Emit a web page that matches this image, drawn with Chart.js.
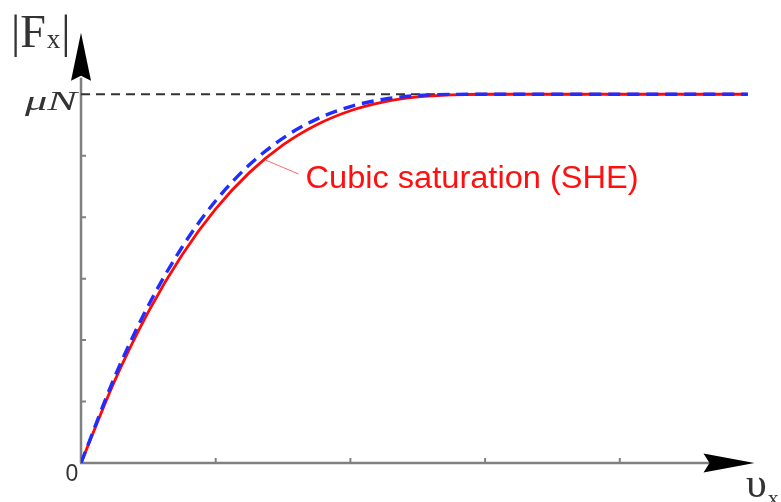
<!DOCTYPE html>
<html>
<head>
<meta charset="utf-8">
<script src="https://cdn.jsdelivr.net/npm/chart.js@4/dist/chart.umd.min.js"></script>
<style>
html,body{margin:0;padding:0;background:#fff;}
#wrap{width:781px;height:502px;position:relative;}
</style>
</head>
<body>
<div id="wrap"><canvas id="c" width="781" height="502"></canvas></div>
<script>
// ---- data ----
const slipValues = [0, 0.25, 0.5, 0.75, 1.0, 1.25, 1.5, 1.75, 2.0, 2.25, 2.5, 2.75, 3.0, 3.5, 4.0, 4.5, 4.95];
const cubicSHE   = [0, 1.337, 2.460, 3.386, 4.135, 4.725, 5.175, 5.504, 5.732, 5.876, 5.956, 5.991, 6.0, 6.0, 6.0, 6.0, 6.0];
const dashedBlue = [0, 1.400, 2.563, 3.511, 4.267, 4.852, 5.287, 5.596, 5.800, 5.920, 5.979, 5.998, 6.0, 6.0, 6.0, 6.0, 6.0];
const muNLevel = 6;
const muNLine = [0, 4.95];
const xTicks = [1, 2, 3, 4];
const yTicks = [1, 2, 3, 4, 5];
const xMax = 5, yMax = 7;
const yTickLabel = "\u03BCN";
const originLabel = "0";
const yAxisTitle = ["|F", "x", "|"];
const xAxisTitle = ["\u03C5", "x"];
const annotationText = "Cubic saturation (SHE)";
const annotationAnchor = {x: 1.37, y: 4.93};

const pts = (xa, ya) => xa.map((x, i) => ({x: x, y: ya[i]}));

function fitText(ctx, txt, x, y, width) {
  const w = ctx.measureText(txt).width;
  ctx.save();
  ctx.translate(x, y);
  ctx.scale(width / w, 1);
  ctx.fillText(txt, 0, 0);
  ctx.restore();
}

const decor = {
  id: 'decor',
  beforeDatasetsDraw(chart) {
    const ctx = chart.ctx, xs = chart.scales.x, ys = chart.scales.y;
    const x0 = xs.getPixelForValue(0), y0 = ys.getPixelForValue(0);
    const xTip = xs.getPixelForValue(xMax), yTip = ys.getPixelForValue(yMax);
    ctx.save();
    ctx.strokeStyle = '#808080';
    ctx.lineWidth = 2.5;
    ctx.beginPath();
    ctx.moveTo(x0, y0); ctx.lineTo(x0, yTip + 45);
    ctx.moveTo(x0 - 1, y0); ctx.lineTo(xTip - 45, y0);
    ctx.stroke();
    ctx.lineWidth = 2;
    ctx.beginPath();
    xTicks.forEach(t => { const p = xs.getPixelForValue(t); ctx.moveTo(p, y0); ctx.lineTo(p, y0 - 5); });
    yTicks.forEach(t => { const p = ys.getPixelForValue(t); ctx.moveTo(x0, p); ctx.lineTo(x0 + 5, p); });
    ctx.stroke();
    // arrowheads
    ctx.fillStyle = '#000';
    ctx.beginPath();
    ctx.moveTo(x0, yTip);
    ctx.lineTo(x0 + 10, yTip + 48);
    ctx.lineTo(x0, yTip + 43);
    ctx.lineTo(x0 - 10, yTip + 48);
    ctx.closePath();
    ctx.fill();
    ctx.beginPath();
    ctx.moveTo(xTip, y0);
    ctx.lineTo(xTip - 51, y0 - 9.5);
    ctx.lineTo(xTip - 45, y0);
    ctx.lineTo(xTip - 51, y0 + 9.5);
    ctx.closePath();
    ctx.fill();
    ctx.restore();
  },
  afterDraw(chart) {
    const ctx = chart.ctx, xs = chart.scales.x, ys = chart.scales.y;
    const x0 = xs.getPixelForValue(0), y0 = ys.getPixelForValue(0);
    ctx.save();
    ctx.textBaseline = 'alphabetic';
    ctx.textAlign = 'left';
    ctx.fillStyle = '#333';
    // y axis title |Fx|
    ctx.font = '46px "Liberation Serif", serif';
    let w1 = ctx.measureText(yAxisTitle[0]).width;
    ctx.fillText(yAxisTitle[0], 11, 47);
    ctx.font = '27px "Liberation Serif", serif';
    let w2 = ctx.measureText(yAxisTitle[1]).width;
    ctx.fillText(yAxisTitle[1], 11 + w1 + 1, 48);
    ctx.font = '46px "Liberation Serif", serif';
    ctx.fillText(yAxisTitle[2], 11 + w1 + w2 + 2, 47);
    // muN
    ctx.font = 'italic 27px "Liberation Serif", serif';
    const yMu = ys.getPixelForValue(muNLevel);
    fitText(ctx, yTickLabel, 25, yMu + 16, 52);
    // origin 0
    ctx.font = '23px "Liberation Sans", sans-serif';
    ctx.textAlign = 'center';
    ctx.fillText(originLabel, x0 - 9, y0 + 18);
    ctx.textAlign = 'left';
    // x axis title
    ctx.font = '42px "Liberation Serif", serif';
    const wu = ctx.measureText(xAxisTitle[0]).width;
    ctx.fillText(xAxisTitle[0], 746, 497);
    ctx.font = '22px "Liberation Serif", serif';
    ctx.fillText(xAxisTitle[1], 746 + wu + 1, 505);
    // annotation
    const ax = xs.getPixelForValue(annotationAnchor.x), ay = ys.getPixelForValue(annotationAnchor.y);
    ctx.strokeStyle = 'rgba(255,40,40,0.7)';
    ctx.lineWidth = 1;
    ctx.beginPath();
    ctx.moveTo(ax, ay);
    ctx.lineTo(ax + 33, ay + 14);
    ctx.stroke();
    ctx.fillStyle = '#ff1010';
    ctx.font = '31px "Liberation Sans", sans-serif';
    fitText(ctx, annotationText, ax + 40, ay + 28, 333);
    ctx.restore();
  }
};

new Chart(document.getElementById('c'), {
  type: 'scatter',
  data: {
    datasets: [
      {
        label: 'dashed',
        data: pts(slipValues, dashedBlue),
        showLine: true,
        borderColor: '#1f2dff',
        borderWidth: 3.4,
        borderDash: [12, 7],
        cubicInterpolationMode: 'monotone',
        pointRadius: 0,
        fill: false,
        order: 0
      },
      {
        label: annotationText,
        data: pts(slipValues, cubicSHE),
        showLine: true,
        borderColor: '#ff0a0a',
        borderWidth: 2.8,
        cubicInterpolationMode: 'monotone',
        pointRadius: 0,
        fill: false,
        order: 1
      },
      {
        label: 'muN',
        data: pts(muNLine, [muNLevel, muNLevel]),
        showLine: true,
        borderColor: '#333333',
        borderWidth: 2,
        borderDash: [9, 6],
        pointRadius: 0,
        fill: false,
        order: 2
      }
    ]
  },
  options: {
    responsive: false,
    devicePixelRatio: 1,
    animation: false,
    events: [],
    layout: { padding: { left: 81, right: 26.5, top: 32.8, bottom: 39 } },
    plugins: { legend: { display: false }, tooltip: { enabled: false } },
    scales: {
      x: { type: 'linear', min: 0, max: xMax, display: false },
      y: { type: 'linear', min: 0, max: yMax, display: false }
    }
  },
  plugins: [decor]
});
</script>
</body>
</html>
